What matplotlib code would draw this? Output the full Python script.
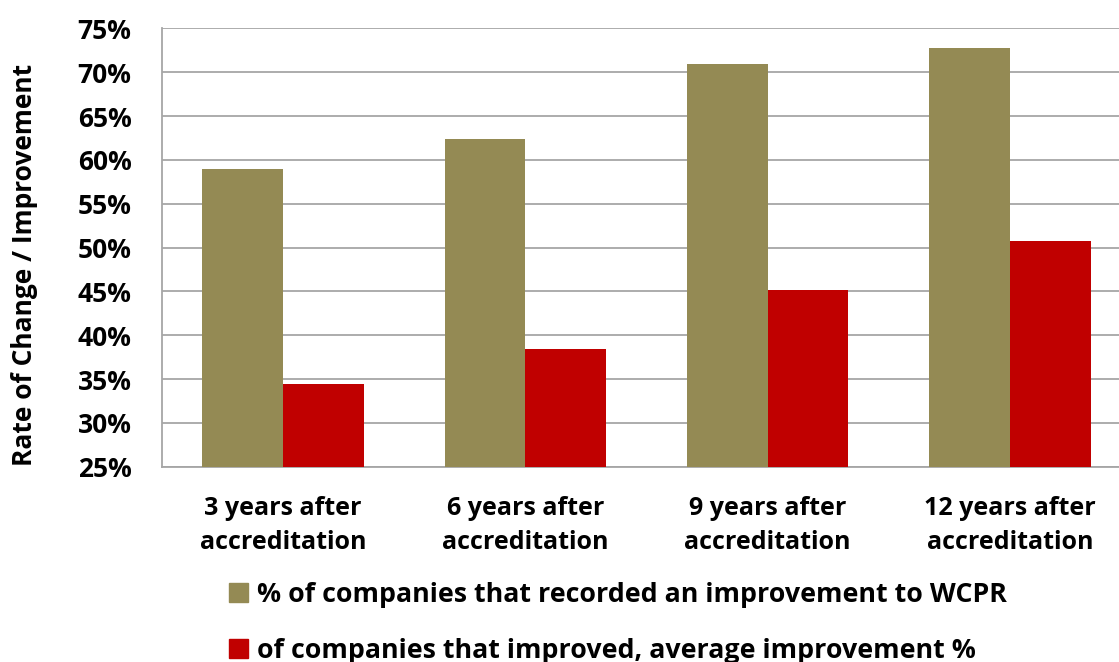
import numpy as np
import matplotlib
matplotlib.use('Agg')
import matplotlib.pyplot as plt
from matplotlib.patches import Patch
from matplotlib.ticker import FuncFormatter

matplotlib.rcParams['font.family'] = ['Open Sans', 'DejaVu Sans']
matplotlib.rcParams['font.weight'] = 'bold'

# 数据
categories = ['3 years after\naccreditation', '6 years after\naccreditation',
              '9 years after\naccreditation', '12 years after\naccreditation']
pct_improved = [59.0, 62.4, 71.0, 72.8]
avg_improvement = [34.4, 38.4, 45.2, 50.7]
series_names = ['% of companies that recorded an improvement to WCPR',
                'of companies that improved, average improvement %']

OLIVE = '#948A54'
RED = '#C00000'
GRID = '#A6A6A6'

fig = plt.figure(figsize=(11.19, 6.62), dpi=100)
ax = fig.add_axes([0.1448, 0.295, 0.866, 0.662])

x = np.arange(len(categories))
w = 0.333
ax.bar(x - w / 2, pct_improved, width=w, color=OLIVE, zorder=3)
ax.bar(x + w / 2, avg_improvement, width=w, color=RED, zorder=3)

ax.set_xlim(-0.5, 3.5)
ax.set_ylim(25, 75)
ax.set_yticks(np.arange(25, 76, 5))
ax.yaxis.set_major_formatter(FuncFormatter(lambda v, p: f'{v:.0f}%'))
ax.set_xticks(x)
ax.set_xticklabels(categories, fontsize=18, fontweight='bold', linespacing=1.5)
ax.tick_params(axis='y', labelsize=19, length=0, pad=22)
ax.tick_params(axis='x', length=0, pad=21)
for lbl in ax.get_yticklabels():
    lbl.set_fontweight('bold')

ax.grid(axis='y', color=GRID, linewidth=1.3, zorder=0)
for side in ['top', 'right']:
    ax.spines[side].set_visible(False)
for side in ['left', 'bottom']:
    ax.spines[side].set_color(GRID)
    ax.spines[side].set_linewidth(1.3)

ax.set_ylabel('Rate of Change / Improvement', fontsize=19, fontweight='bold')
ax.yaxis.set_label_coords(-0.128, 0.46)

handles = [Patch(color=OLIVE), Patch(color=RED)]
fig.legend(handles, series_names, loc='upper left', bbox_to_anchor=(0.195, 0.137),
           frameon=False, fontsize=19.3, handlelength=0.7, handleheight=0.7,
           handletextpad=0.35, labelspacing=1.1, borderaxespad=0)
for t in fig.legends[0].get_texts():
    t.set_fontweight('bold')

plt.savefig('out.png', dpi=100)
plt.close()
